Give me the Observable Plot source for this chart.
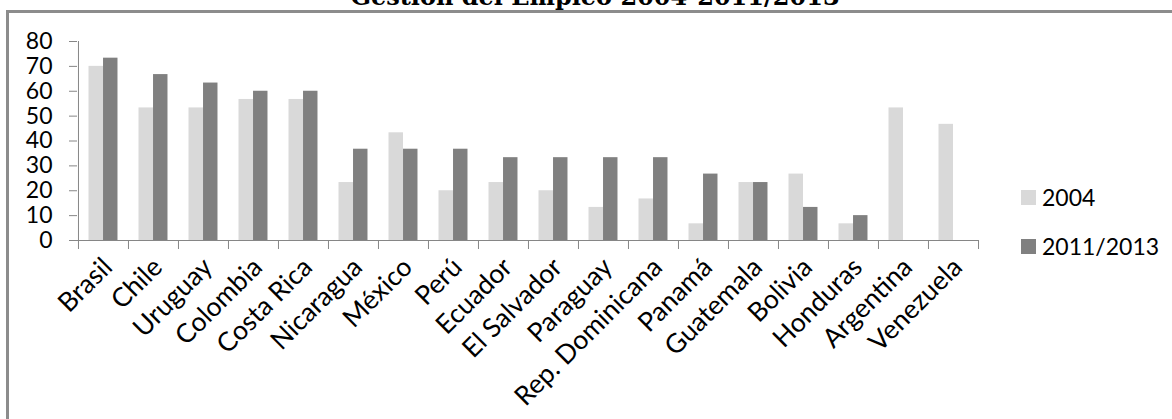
<!DOCTYPE html>
<html>
<head>
<meta charset="utf-8">
<script src="https://cdn.jsdelivr.net/npm/d3@7"></script>
<script src="https://cdn.jsdelivr.net/npm/@observablehq/plot@0.6"></script>
<style>
  html, body { margin: 0; padding: 0; background: #fff; }
  body { position: relative; width: 1172px; height: 419px; overflow: hidden; }
  #frame { position: absolute; left: 6px; top: 10px; width: 1200px; height: 500px;
           border: 3px solid #8c8c8c; box-sizing: border-box; }
  #title { position: absolute; left: 0; width: 1190px; top: -15px; text-align: center;
           font: bold 24px/24px "DejaVu Serif", serif; color: #000; white-space: nowrap; }
  #chart { position: absolute; left: 0; top: 0; }
  .key { position: absolute; display: flex; align-items: center;
         font: 23px Lato, sans-serif; color: #000; }
  .key span.sw { display: inline-block; width: 15px; height: 15px; margin-right: 6px; }
</style>
</head>
<body>
<div id="frame"></div>
<div id="title">Gestión del Empleo 2004-2011/2013</div>
<div id="chart"></div>
<script>
// Countries in display order
const countries = ["Brasil", "Chile", "Uruguay", "Colombia", "Costa Rica", "Nicaragua", "México",
  "Perú", "Ecuador", "El Salvador", "Paraguay", "Rep. Dominicana", "Panamá", "Guatemala",
  "Bolivia", "Honduras", "Argentina", "Venezuela"];

// Index values per period (null = not measured)
const values2004 = [70, 53.3, 53.3, 56.7, 56.7, 23.3, 43.3, 20, 23.3, 20, 13.3, 16.7, 6.7, 23.3, 26.7, 6.7, 53.3, 46.7];
const values2013 = [73.3, 66.7, 63.3, 60, 60, 36.7, 36.7, 36.7, 33.3, 33.3, 33.3, 33.3, 26.7, 23.3, 13.3, 10, null, null];

const seriesNames = ["2004", "2011/2013"];
const seriesColors = ["#d9d9d9", "#808080"];
const yTicks = [0, 10, 20, 30, 40, 50, 60, 70, 80];

const rows2004 = countries.map((c, i) => ({pais: c, valor: values2004[i]})).filter(d => d.valor != null);
const rows2013 = countries.map((c, i) => ({pais: c, valor: values2013[i]})).filter(d => d.valor != null);

const W = 1172, H = 419;
const mLeft = 77, mRight = 194, mTop = 41, mBottom = 179;
const step = (W - mLeft - mRight) / countries.length;
const axisGray = "#868686";
const noLabel = () => "";

const chart = Plot.plot({
  width: W,
  height: H,
  marginLeft: mLeft,
  marginRight: mRight,
  marginTop: mTop,
  marginBottom: mBottom,
  style: {fontFamily: "Lato, sans-serif", fontSize: "23px", color: "#000", background: "transparent", overflow: "visible"},
  x: {domain: countries, padding: 0, axis: null},
  y: {domain: [0, 80], axis: null},
  marks: [
    Plot.barY(rows2004, {x: "pais", y: "valor", fill: seriesColors[0], insetLeft: step * 0.21, insetRight: step * 0.5}),
    Plot.barY(rows2013, {x: "pais", y: "valor", fill: seriesColors[1], insetLeft: step * 0.5, insetRight: step * 0.21}),
    // value axis line and category baseline
    Plot.ruleX([countries[0]], {y1: 0, y2: 80, dx: -step / 2, stroke: axisGray}),
    Plot.ruleY([0], {stroke: axisGray}),
    // category boundary ticks
    Plot.axisX(countries, {tickSize: 9, tickFormat: noLabel, dx: -step / 2, stroke: axisGray, label: null}),
    Plot.axisX([countries[countries.length - 1]], {tickSize: 9, tickFormat: noLabel, dx: step / 2, stroke: axisGray, label: null}),
    // rotated category labels
    Plot.axisX(countries, {tickSize: 0, tickRotate: -45, tickPadding: 15, textAnchor: "end", lineAnchor: "top",
      dx: -3, fill: "#000", fontSize: 26.5, label: null}),
    Plot.axisY(yTicks, {tickSize: 8, tickPadding: 17, stroke: axisGray, fill: "#000", label: null})
  ]
});
document.getElementById("chart").appendChild(chart);

// Legend to the right of the plot
const legendTops = [183, 232];
seriesNames.forEach((name, i) => {
  const row = document.createElement("div");
  row.className = "key";
  row.style.left = "1021px";
  row.style.top = legendTops[i] + "px";
  const sw = document.createElement("span");
  sw.className = "sw";
  sw.style.background = seriesColors[i];
  row.appendChild(sw);
  row.appendChild(document.createTextNode(name));
  document.body.appendChild(row);
});
</script>
</body>
</html>
